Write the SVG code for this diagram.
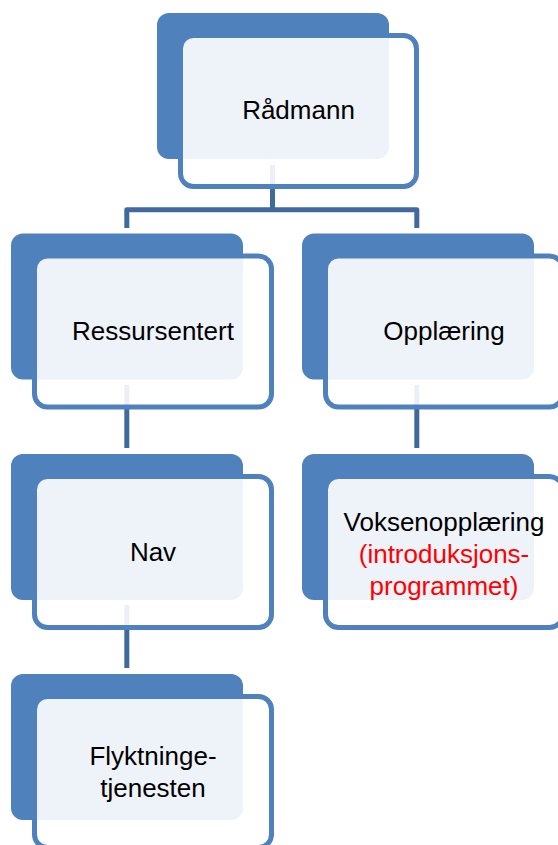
<svg xmlns="http://www.w3.org/2000/svg" width="558" height="845" viewBox="0 0 558 845">
  <style>
    .back { fill: #4F81BD; }
    .front { fill: #FFFFFF; fill-opacity: 0.9; stroke: #4F81BD; stroke-width: 5; }
    .link { fill: none; stroke: #41699E; stroke-width: 5; stroke-linejoin: round; }
    .label { font-family: "Liberation Sans", Arial, sans-serif; font-size: 26px; fill: #000000; text-anchor: middle; }
    .note { fill: #FF0000; }
  </style>

  <!-- connectors sit underneath the boxes -->
  <g id="connectors">
    <path class="link" d="M272.5,165 V209.8"/>
    <path class="link" d="M126.8,228 V209.8 H416.8 V228"/>
    <path class="link" d="M126.8,385 V448"/>
    <path class="link" d="M416.8,385 V448"/>
    <path class="link" d="M126.8,605 V668"/>
  </g>

  <g id="radmann">
    <rect class="back" x="157" y="13" width="232" height="146" rx="12"/>
    <rect class="front" x="180.5" y="35.5" width="236" height="151" rx="13"/>
    <text class="label" x="298.5" y="119">Rådmann</text>
  </g>

  <g id="ressursentert">
    <rect class="back" x="11" y="233.5" width="232" height="146" rx="12"/>
    <rect class="front" x="34.5" y="256" width="237" height="151" rx="13"/>
    <text class="label" x="153" y="340">Ressursentert</text>
  </g>

  <g id="opplaering">
    <rect class="back" x="302" y="233.5" width="232" height="146" rx="12"/>
    <rect class="front" x="325.5" y="256" width="237" height="151" rx="13"/>
    <text class="label" x="444" y="340">Opplæring</text>
  </g>

  <g id="nav">
    <rect class="back" x="11" y="454" width="232" height="146" rx="12"/>
    <rect class="front" x="34.5" y="476.5" width="237" height="151" rx="13"/>
    <text class="label" x="153" y="561">Nav</text>
  </g>

  <g id="voksenopplaering">
    <rect class="back" x="302" y="454" width="232" height="146" rx="12"/>
    <rect class="front" x="325.5" y="476.5" width="237" height="151" rx="13"/>
    <text class="label" x="444" y="531">Voksenopplæring</text>
    <text class="label note" x="444" y="563">(introduksjons-</text>
    <text class="label note" x="444" y="595">programmet)</text>
  </g>

  <g id="flyktningetjenesten">
    <rect class="back" x="11" y="674" width="232" height="146" rx="12"/>
    <rect class="front" x="34.5" y="696.5" width="237" height="151" rx="13"/>
    <text class="label" x="153" y="765">Flyktninge-</text>
    <text class="label" x="153" y="797">tjenesten</text>
  </g>
</svg>
